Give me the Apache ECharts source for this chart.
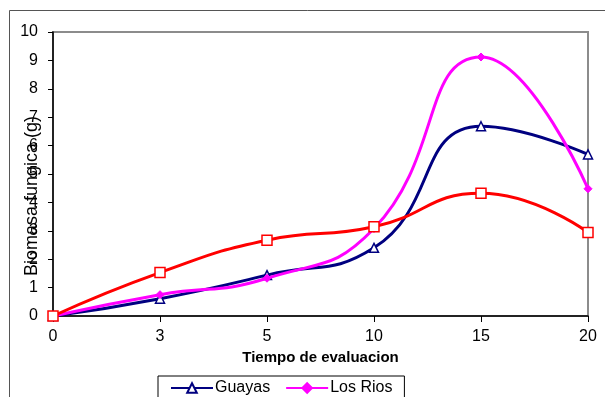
<!DOCTYPE html>
<html>
<head>
<meta charset="utf-8">
<script src="https://cdn.jsdelivr.net/npm/echarts@6/dist/echarts.min.js"></script>
<style>
  html, body { margin: 0; padding: 0; background: #fff; }
  #chart { width: 605px; height: 397px; }
</style>
</head>
<body>
<div id="chart"></div>
<script>
// Evaluation times (x categories)
const tiempos = ['0', '3', '5', '10', '15', '20'];

// Fungal biomass (g) per province
const guayas  = [0, 0.61, 1.44, 2.40, 6.68, 5.69];
const losRios = [0, 0.75, 1.33, 3.08, 9.12, 4.48];
const serie3  = [0, 1.53, 2.67, 3.14, 4.32, 2.94];

const yTicks = { min: 0, max: 10, interval: 1 };

const FONT = 'Liberation Sans, Arial, sans-serif';

const chart = echarts.init(document.getElementById('chart'), null, { renderer: 'canvas' });

chart.setOption({
  backgroundColor: '#ffffff',
  animation: false,
  textStyle: { fontFamily: FONT },
  grid: {
    left: 53, right: 17, top: 32, bottom: 81,
    show: true, borderColor: '#8c8c8c', borderWidth: 2, backgroundColor: 'transparent'
  },
  legend: {
    data: ['Guayas', 'Los Rios'],
    left: 158, top: 376,
    padding: [4, 12, 30, 12],
    itemGap: 15,
    itemWidth: 42, itemHeight: 12,
    borderColor: '#000', borderWidth: 1,
    textStyle: { fontFamily: FONT, fontSize: 16, color: '#000', padding: [0, 0, 0, -3] }
  },
  xAxis: {
    type: 'category',
    data: tiempos,
    boundaryGap: false,
    name: 'Tiempo de evaluacion',
    nameLocation: 'middle',
    nameGap: 34,
    nameTextStyle: { fontFamily: FONT, fontSize: 15, fontWeight: 'bold', color: '#000' },
    axisLine: { lineStyle: { color: '#000', width: 1.5 } },
    axisTick: { show: true, length: 6, lineStyle: { color: '#000' } },
    axisLabel: { fontFamily: FONT, fontSize: 16, color: '#000', margin: 13 },
    splitLine: { show: false }
  },
  yAxis: {
    type: 'value',
    min: yTicks.min, max: yTicks.max, interval: yTicks.interval,
    axisLine: { show: true, lineStyle: { color: '#000', width: 1.5 } },
    axisTick: { show: true, length: 5, lineStyle: { color: '#000' } },
    axisLabel: { fontFamily: FONT, fontSize: 16, color: '#000', margin: 15 },
    splitLine: { show: false }
  },
  graphic: [
    {
      type: 'rect', silent: true, z: -1,
      shape: { x: 9.5, y: 10.5, width: 620, height: 420 },
      style: { fill: 'none', stroke: '#555', lineWidth: 1 }
    },
    {
      type: 'text', silent: true,
      x: 32, y: 196, rotation: Math.PI / 2,
      style: {
        text: 'Biomasa fungica (g)',
        font: '18px ' + FONT,
        fill: '#000',
        align: 'center', verticalAlign: 'middle'
      }
    }
  ],
  series: [
    {
      name: 'Guayas', type: 'line', data: guayas, smooth: 0.5,
      symbol: 'triangle', symbolSize: 9, showAllSymbol: true,
      lineStyle: { color: '#000080', width: 3 },
      itemStyle: { color: '#ffffff', borderColor: '#000080', borderWidth: 1.5 },
      z: 3
    },
    {
      name: 'Los Rios', type: 'line', data: losRios, smooth: 0.5,
      symbol: 'diamond', symbolSize: 8, showAllSymbol: true,
      lineStyle: { color: '#ff00ff', width: 3 },
      itemStyle: { color: '#ff00ff', borderColor: '#ff00ff', borderWidth: 1 },
      z: 4
    },
    {
      name: 'Serie 3', type: 'line', data: serie3, smooth: 0.5,
      symbol: 'rect', symbolSize: 10, showAllSymbol: true,
      lineStyle: { color: '#ff0000', width: 3 },
      itemStyle: { color: '#ffffff', borderColor: '#ff0000', borderWidth: 1.5 },
      z: 5
    }
  ]
});
</script>
</body>
</html>
